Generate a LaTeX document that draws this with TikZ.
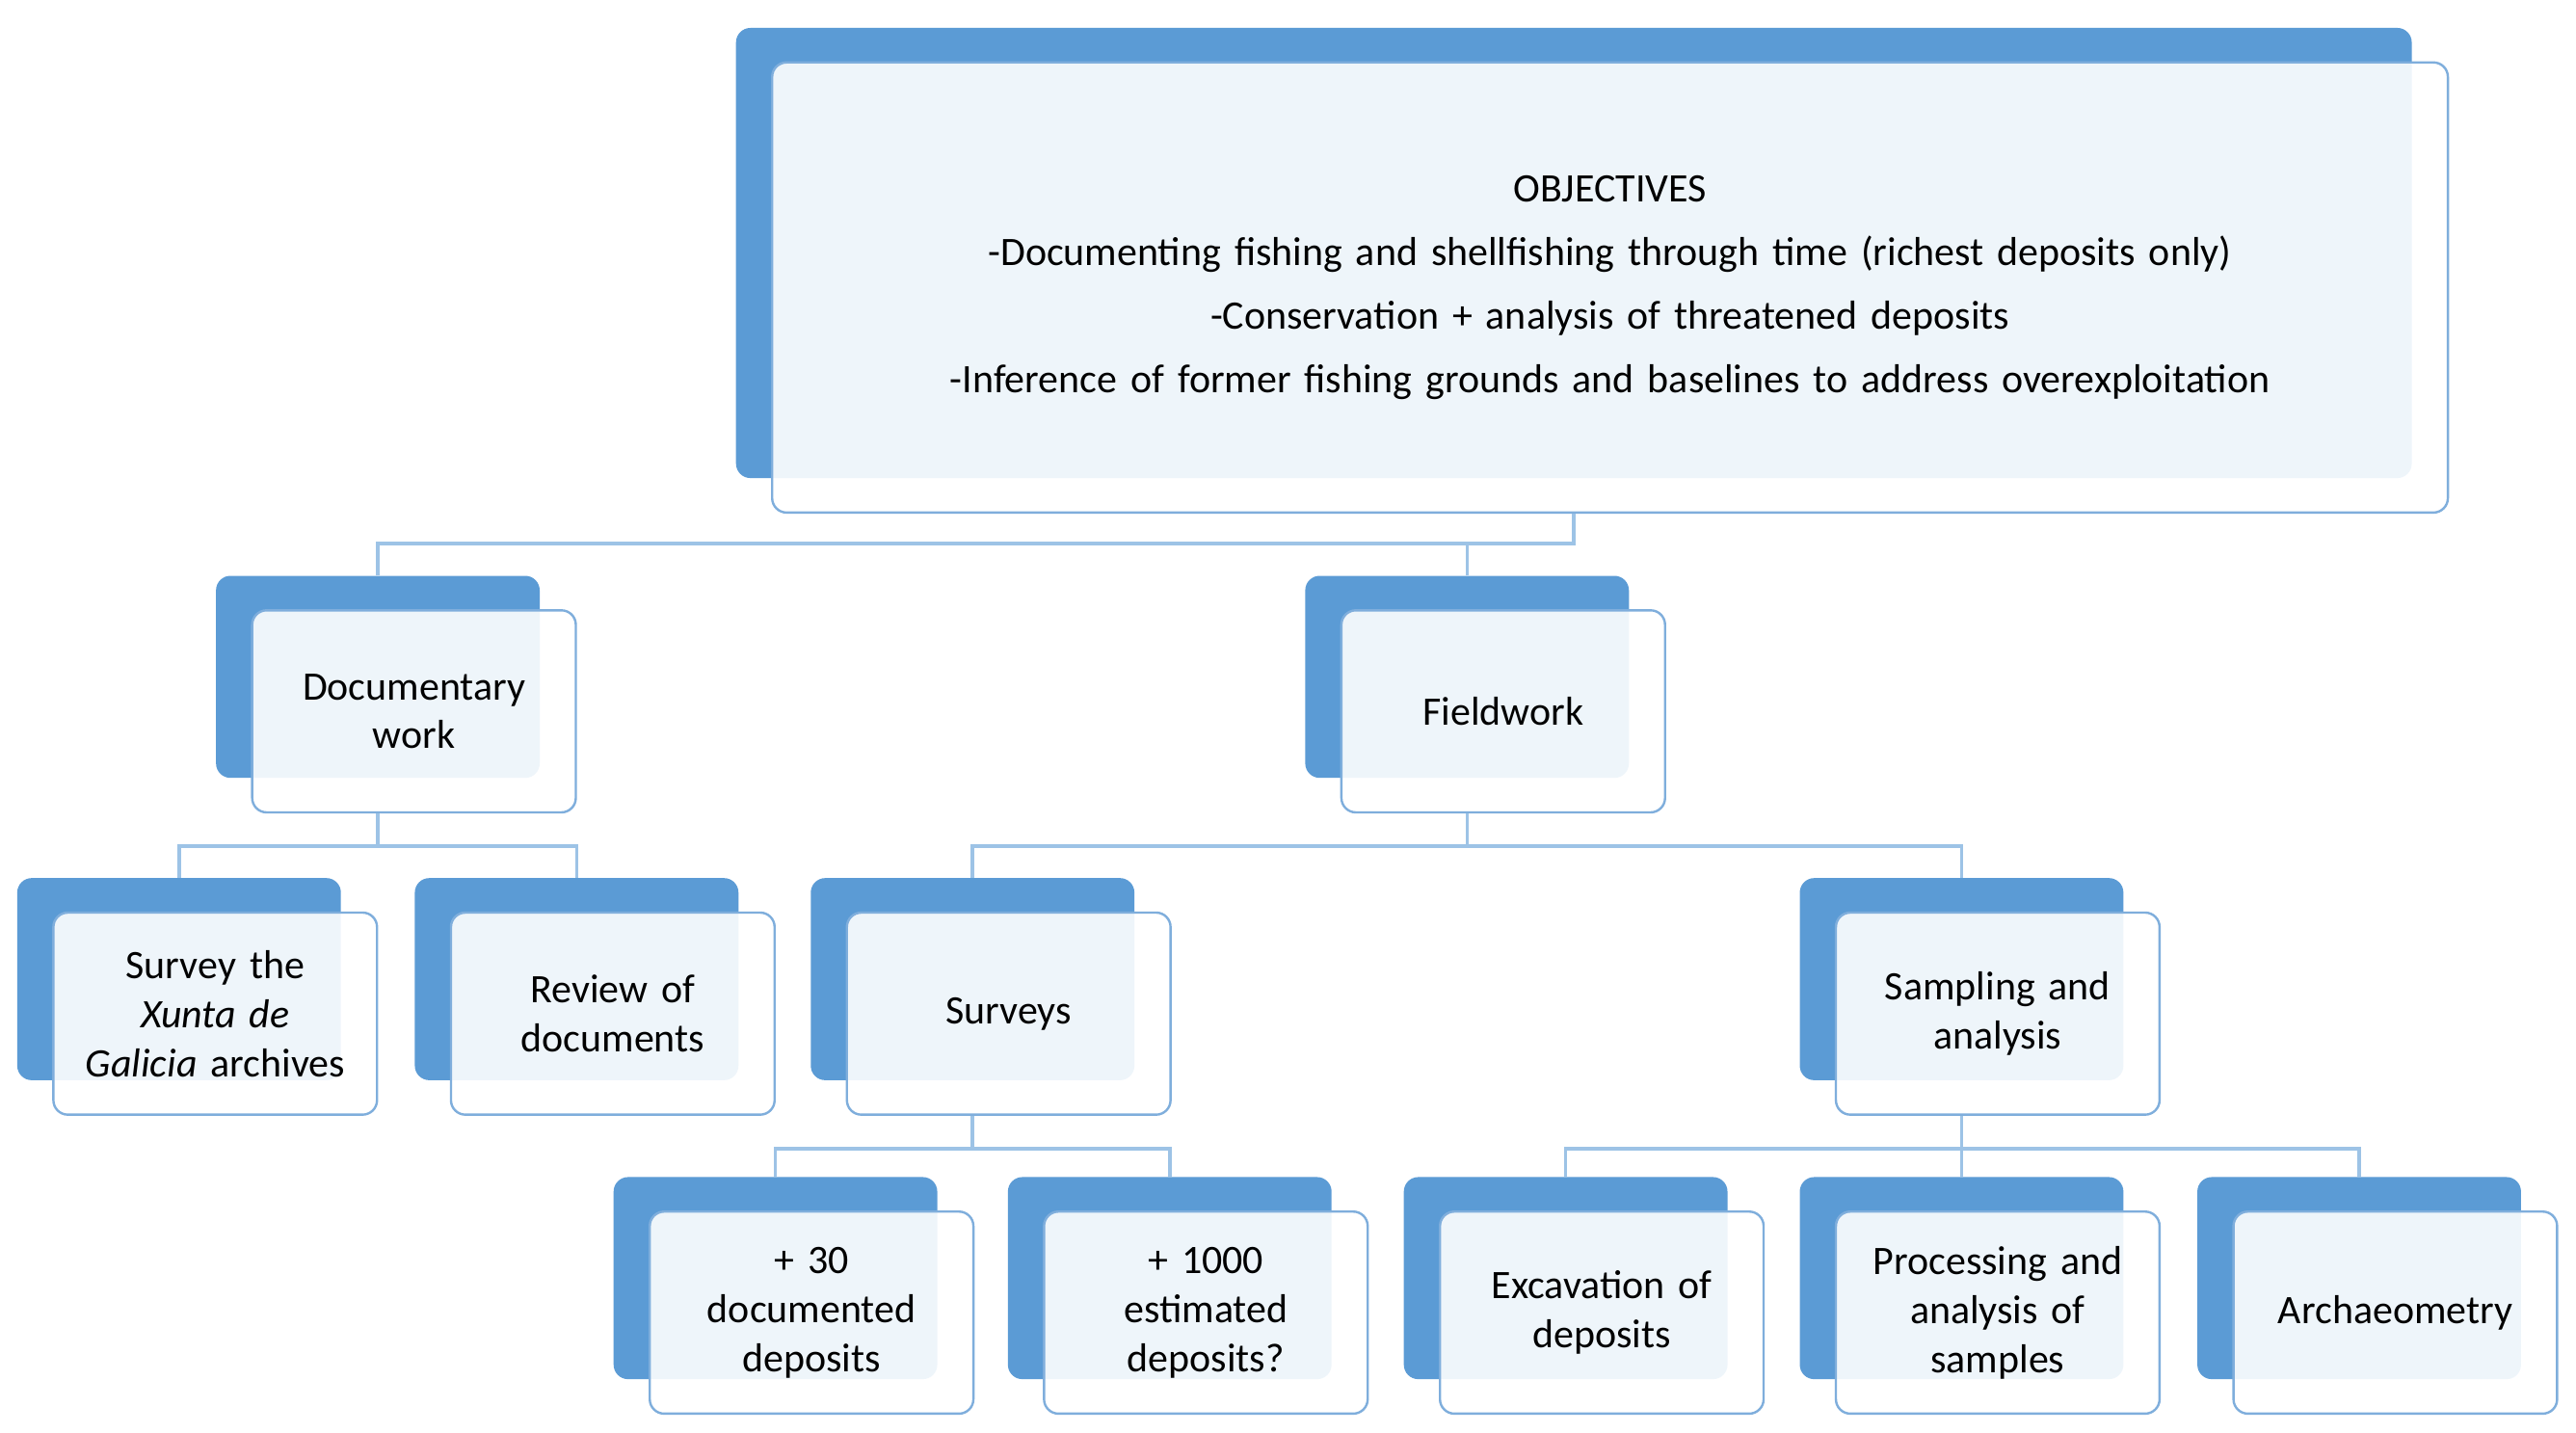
\documentclass[tikz,border=0pt]{standalone}
\usepackage{fontspec}
\setmainfont{Carlito}
\usetikzlibrary{positioning,calc}
\definecolor{boxblue}{HTML}{5B9BD5}
\definecolor{edgeblue}{HTML}{7FAEDC}
\definecolor{linkblue}{HTML}{9DC3E6}
\tikzset{
  backbox/.style={rectangle,rounded corners=5pt,fill=boxblue,draw=none},
  frontbox/.style={rectangle,rounded corners=5pt,fill=white,fill opacity=0.9,
    text opacity=1,draw=edgeblue,thick,align=center,
    font=\fontsize{14}{17}\selectfont},
  link/.style={draw=linkblue,very thick}
}
\newcommand{\stepbox}[6]{%
  \node[backbox,minimum width=#4*0.02cm,minimum height=#5*0.02cm] (#1B) at (#2,-#3) {};
  \node[frontbox,minimum width=#4*0.02cm,minimum height=#5*0.02cm,
    text width=(#4-20)*0.02cm] (#1) at (#2+22,-#3-21) {#6};}

\begin{document}
\begin{tikzpicture}[x=0.02cm,y=0.02cm]
  \fill[white] (0,0) rectangle (1568,-872);
  \useasboundingbox (0,0) rectangle (1568,-872);
  %Boxes
  \stepbox{obj}{958}{154}{1020}{274}{OBJECTIVES\\[5pt]
    -Documenting fishing and shellfishing through time (richest deposits only)\\[5pt]
    -Conservation + analysis of threatened deposits\\[5pt]
    -Inference of former fishing grounds and baselines to address overexploitation}
  \stepbox{doc}{230}{412}{197}{123}{Documentary\\work}
  \stepbox{field}{893}{412}{197}{123}{Fieldwork}
  \stepbox{xunta}{109}{596}{197}{123}{Survey the\\\textit{Xunta de}\\\textit{Galicia} archives}
  \stepbox{review}{351}{596}{197}{123}{Review of\\documents}
  \stepbox{surv}{592}{596}{197}{123}{Surveys}
  \stepbox{samp}{1194}{596}{197}{123}{Sampling and\\analysis}
  \stepbox{thirty}{472}{778}{197}{123}{+ 30\\documented\\deposits}
  \stepbox{thousand}{712}{778}{197}{123}{+ 1000\\estimated\\deposits?}
  \stepbox{exc}{953}{778}{197}{123}{Excavation of\\deposits}
  \stepbox{proc}{1194}{778}{197}{123}{Processing and\\analysis of\\samples}
  \stepbox{arch}{1436}{778}{197}{123}{Archaeometry}

  %Lines
  \draw[link] (objB.south |- obj.south) -- ++(0,-18) -| (docB.north);
  \draw[link] (objB.south |- obj.south) -- ++(0,-18) -| (fieldB.north);
  \draw[link] (docB.south |- doc.south) -- ++(0,-20) -| (xuntaB.north);
  \draw[link] (docB.south |- doc.south) -- ++(0,-20) -| (reviewB.north);
  \draw[link] (fieldB.south |- field.south) -- ++(0,-20) -| (survB.north);
  \draw[link] (fieldB.south |- field.south) -- ++(0,-20) -| (sampB.north);
  \draw[link] (survB.south |- surv.south) -- ++(0,-20) -| (thirtyB.north);
  \draw[link] (survB.south |- surv.south) -- ++(0,-20) -| (thousandB.north);
  \draw[link] (sampB.south |- samp.south) -- ++(0,-20) -| (excB.north);
  \draw[link] (sampB.south |- samp.south) -- ++(0,-20) -| (procB.north);
  \draw[link] (sampB.south |- samp.south) -- ++(0,-20) -| (archB.north);
\end{tikzpicture}
\end{document}
